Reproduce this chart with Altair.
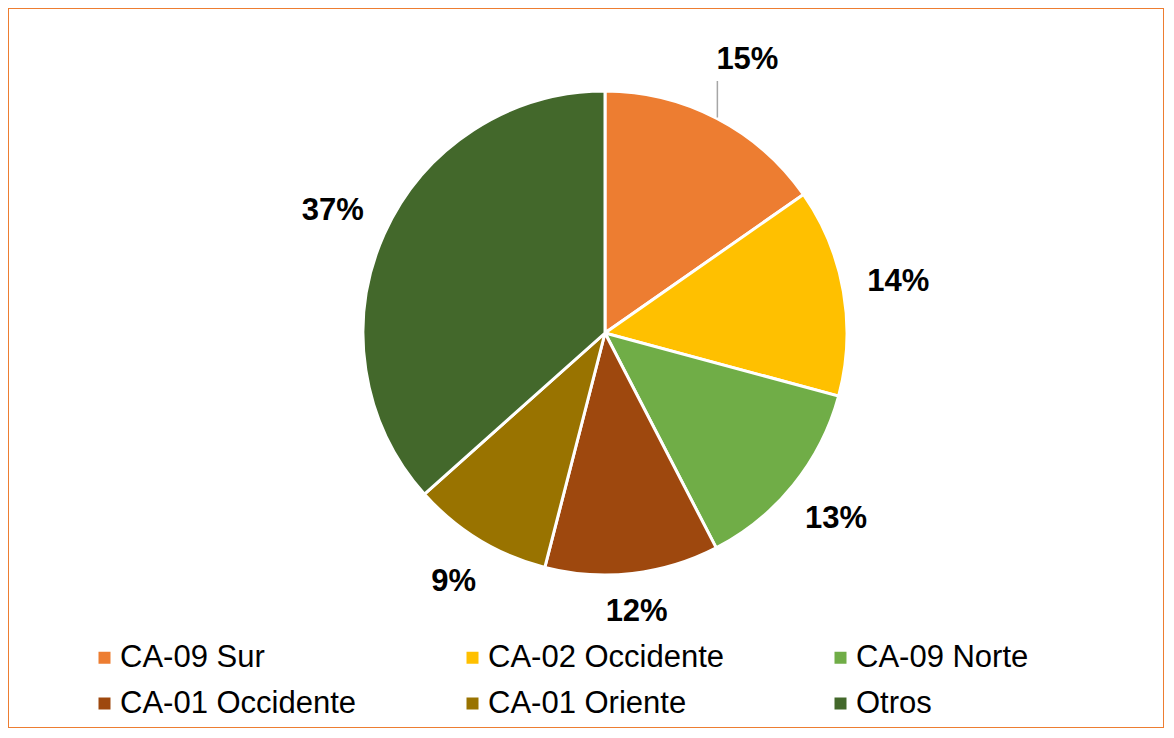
import altair as alt
import pandas as pd

names = ["CA-09 Sur", "CA-02 Occidente", "CA-09 Norte", "CA-01 Occidente", "CA-01 Oriente", "Otros"]
values = [15.3, 13.9, 13.2, 11.6, 9.4, 36.6]
colors = ["#ED7D31", "#FFC000", "#70AD47", "#9E480E", "#997300", "#43682B"]

df = pd.DataFrame({"name": names, "value": values, "idx": list(range(len(names)))})

CX, CY, R = 597, 325, 242
FONT = "Liberation Sans"

base = alt.Chart(df)

pie = base.mark_arc(outerRadius=R, stroke="white", strokeWidth=3).encode(
    x=alt.value(CX),
    y=alt.value(CY),
    theta=alt.Theta("value:Q", stack=True),
    color=alt.Color(
        "name:N",
        scale=alt.Scale(domain=names, range=colors),
        sort=names,
        legend=alt.Legend(
            title=None,
            orient="none",
            direction="horizontal",
            legendX=81,
            legendY=634,
            columns=3,
            columnPadding=100,
            rowPadding=14,
            padding=0,
            symbolType="square",
            symbolSize=144,
            symbolStrokeWidth=0,
            labelOffset=0,
            labelFont=FONT,
            labelFontSize=31,
            labelColor="#000000",
            labelLimit=400,
        ),
    ),
    order=alt.Order("idx:Q"),
)

lab = base.transform_joinaggregate(total="sum(value)").transform_window(
    cum="sum(value)", sort=[alt.SortField("idx")], frame=[None, 0]
).transform_calculate(
    pct="datum.value / datum.total",
    mid="(datum.cum - datum.value / 2) / datum.total * 2 * PI",
).transform_calculate(
    lr=f"{R + 23} + 31 * abs(sin(datum.mid)) + 12 * abs(cos(datum.mid)) + (datum.idx == 0 ? 18 : 0)",
).transform_calculate(
    lx=f"{CX} + datum.lr * sin(datum.mid)",
    ly=f"{CY} - datum.lr * cos(datum.mid)",
    ex=f"{CX} + {R + 1} * sin(datum.mid)",
    ey=f"{CY} - {R + 1} * cos(datum.mid)",
)

labels = lab.mark_text(
    font=FONT, fontSize=31, fontWeight="bold", color="#000000", align="center", baseline="middle"
).encode(
    x=alt.X("lx:Q", scale=None, axis=None),
    y=alt.Y("ly:Q", scale=None, axis=None),
    text=alt.Text("pct:Q", format=".0%"),
)

leader = lab.transform_filter("datum.idx == 0").mark_rule(color="#A6A6A6", strokeWidth=1.5).encode(
    x=alt.X("ex:Q", scale=None, axis=None),
    y=alt.Y("ey:Q", scale=None, axis=None),
    x2="lx2:Q",
    y2="ly2:Q",
).transform_calculate(lx2="datum.lx - 30", ly2="datum.ly + 21")

chart = alt.layer(pie, leader, labels).properties(
    width=1156, height=720, padding=0
).configure_view(stroke="#ED7D31", strokeWidth=2)

chart.save("out.html", embed_options={"renderer": "svg", "actions": False})
